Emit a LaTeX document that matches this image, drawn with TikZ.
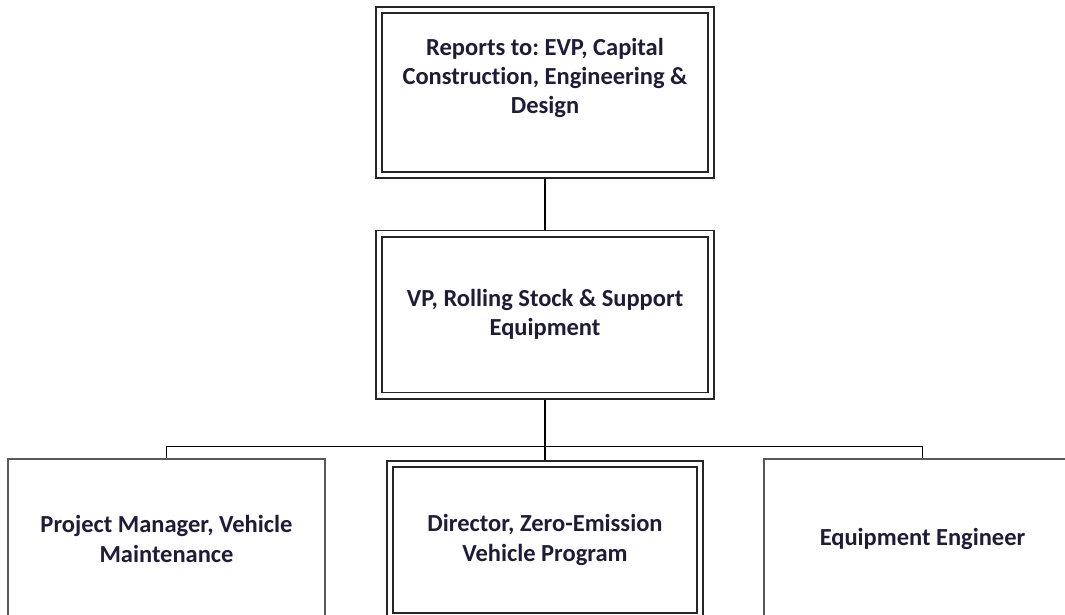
\documentclass[tikz,border=0pt]{standalone}
\usepackage{fontspec}
\setmainfont{Carlito}[Ligatures=NoCommon]
\usetikzlibrary{backgrounds}
\definecolor{txt}{RGB}{30,28,55}
\frenchspacing
\begin{document}
\begin{tikzpicture}[x=1pt,y=-1pt,
  boxtext/.style={font=\bfseries\fontsize{24.5}{29.2}\selectfont, text=txt, align=center},
  dbox/.style={draw=black!85, double=white, line width=1.6pt, double distance=4.8pt, fill=white, inner sep=0pt, boxtext},
  sbox/.style={draw=black!65, line width=1.6pt, fill=white, inner sep=0pt, boxtext},
  conn/.style={draw=black, line width=1.5pt}]
\useasboundingbox (0,0) rectangle (1065,614);
\clip (0,0) rectangle (1065,614);
\node[dbox, minimum width=332pt, minimum height=165pt] (top) at (545,92.5) {};
\node[boxtext] (toptext) at (545,78) {Reports to: EVP, Capital\\Construction, Engineering \&\\Design};
\node[dbox, minimum width=332pt, minimum height=162pt] (vp) at (545,314.5) {VP, Rolling Stock \& Support\\Equipment};
\node[sbox, minimum width=317pt, minimum height=160pt] (pm) at (166.5,539) {Project Manager, Vehicle\\Maintenance};
\node[dbox, minimum width=310pt, minimum height=152pt] (dir) at (545,540) {Director, Zero-Emission\\Vehicle Program};
\node[sbox, minimum width=317pt, minimum height=160pt] (eq) at (922.5,539) {Equipment Engineer};
\coordinate (bus) at (545,446.5);
\begin{scope}[on background layer]
\draw[conn] (top.south) -- (vp.north);
\draw[conn] (vp.south) -- (bus);
\draw[conn] (pm.north) |- (bus) -| (eq.north);
\draw[conn] (bus) -- (dir.north);
\end{scope}
\end{tikzpicture}
\end{document}
